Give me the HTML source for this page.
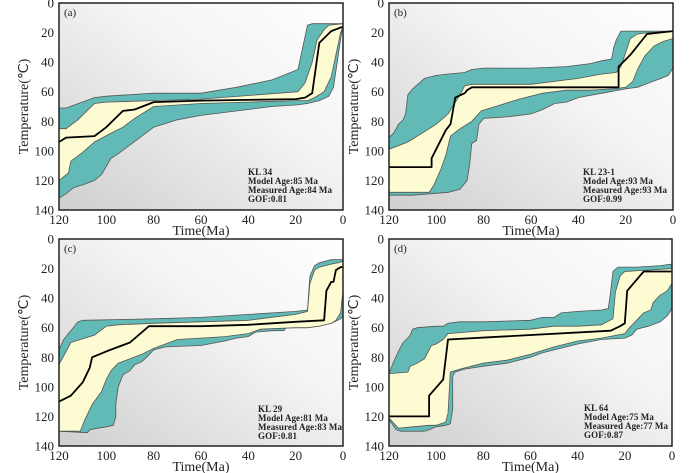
<!DOCTYPE html>
<html><head><meta charset="utf-8"><style>
html,body{margin:0;padding:0;background:#fff;}
svg{display:block;font-family:"Liberation Serif","Times New Roman",serif;}
</style></head>
<body>
<svg id="fig" width="700" height="473" viewBox="0 0 700 473">
<defs>
<linearGradient id="bg" x1="1" y1="0" x2="0" y2="1">
<stop offset="0" stop-color="#ffffff"/><stop offset="0.4" stop-color="#f4f4f4"/><stop offset="1" stop-color="#cfcfcf"/>
</linearGradient>
</defs>
</svg>
<script>
// ---- Panel (a) KL 34 ----
const aOuterUpper=[[120,71],[117,71],[105,64],[100,63],[80,61],[60,61],[45,57],[30,52],[19,45],[15,15],[13,14],[0,14]];
const aOuterLower=[[120,132],[117,129],[114,125],[110,123],[105,120],[102,116],[98,105],[95,102],[90,96],[80,84],[70,79],[60,76],[40,72],[30,70],[20,69],[15,68],[10,66],[6,63],[4,57],[2,35],[0,14]];
const aInnerUpper=[[120,85],[117,85],[112,79],[105,68],[100,67],[80,66],[60,65],[19,60],[16,54],[13,40],[11,25],[8,18],[6,15],[0,14]];
const aInnerLower=[[120,120],[116,115],[115,107],[110,101],[105,94],[98,88],[93,84],[88,78],[80,70],[60,68],[40,67],[20,66],[15,66],[12,64],[8,60],[5,50],[3,35],[1,20],[0,16]];
const aBest=[[120,94],[117,91],[105,90],[100,84],[93,73],[88,72],[80,67],[60,66],[20,65],[16,64],[13,61],[10,27],[5,19],[0,16]];
const aInfo=["KL 34","Model Age:85 Ma","Measured Age:84 Ma","GOF:0.81"];
// ---- Panel (b) KL 23-1 ----
const bOuterUpper=[[120,91],[118,88],[117,85],[116,82],[114,79],[113,75],[112,62],[110,58],[105,51],[100,49],[95,48],[88,47],[85,45],[80,44],[60,44],[45,43],[35,41],[30,39],[26,38],[25,30],[24,25],[22,19],[0,19]];
const bOuterLower=[[120,130],[110,130],[95,128],[90,126],[87,120],[86,110],[85,95],[83,93],[82,82],[80,78],[70,77],[60,75],[55,72],[50,68],[45,67],[40,64],[30,61],[20,58],[15,57],[10,54],[5,51],[2,49],[0,44]];
const bInnerUpper=[[120,99],[112,94],[100,82],[95,75],[90,62],[88,56],[85,55],[60,55],[40,51],[30,48],[24,47],[22,43],[18,24],[15,21],[10,20],[0,19]];
const bInnerLower=[[120,128],[103,128],[101,123],[98,112],[96,103],[94,90],[90,85],[85,80],[81,73],[75,70],[65,65],[55,61],[45,59],[35,59],[25,58],[20,57],[17,53],[15,45],[12,36],[8,29],[4,26],[0,24]];
const bBest=[[120,111],[102,111],[102,105],[96,86],[94,82],[92,64],[88,61],[87,59],[85,57],[23,57],[23,43],[18,35],[11,21],[0,19]];
const bInfo=["KL 23-1","Model Age:93 Ma","Measured Age:93 Ma","GOF:0.99"];
// ---- Panel (c) KL 29 ----
const cOuterUpper=[[120,75],[118,68],[115,62],[112,56],[110,55],[80,54],[60,53],[40,51],[30,50],[20,49],[15,48],[14,25],[12,18],[10,16],[5,14],[0,14]];
const cOuterLower=[[120,130],[108,131],[107,129],[104,128],[100,127],[97,126],[96,120],[96,112],[95,100],[93,92],[90,89],[88,85],[85,83],[83,80],[80,75],[75,73],[60,72],[50,69],[45,67],[40,66],[37,63],[30,62],[25,62],[24,60],[15,60],[13,58],[10,58],[5,57],[1,54],[0,52],[0,35]];
const cInnerUpper=[[120,85],[115,70],[105,65],[100,59],[95,58],[80,57],[60,56],[40,55],[20,51],[15,49],[14,30],[12,21],[10,19],[5,17],[2,16],[0,15]];
const cInnerLower=[[120,130],[111,130],[109,122],[106,112],[102,103],[100,95],[98,89],[95,84],[90,81],[85,78],[80,74],[75,71],[70,68],[60,67],[50,66],[40,64],[35,61],[20,60],[15,60],[10,59],[5,57],[3,55],[1,50],[0,35]];
const cBest=[[120,110],[115,106],[110,97],[107,87],[106,80],[100,76],[90,70],[82,59],[60,59],[40,58],[20,56],[8,55],[7,35],[5,29],[4,29],[3,21],[1,19],[0,19]];
const cInfo=["KL 29","Model Age:81 Ma","Measured Age:83 Ma","GOF:0.81"];
// ---- Panel (d) KL 64 ----
const dOuterUpper=[[120,91],[118,83],[116,76],[114,70],[112,67],[111,65],[110,61],[108,60],[100,59],[97,59],[95,57],[90,56],[80,56],[60,55],[55,53],[50,53],[47,50],[40,49],[30,48],[27,47],[26,35],[25,22],[23,19],[15,19],[5,18],[0,17]];
const dOuterLower=[[120,122],[117,129],[115,130],[105,130],[103,129],[100,127],[96,126],[94,125],[93,115],[93,93],[92,90],[88,88],[80,86],[70,84],[60,80],[55,77],[50,75],[40,71],[30,68],[20,67],[17,65],[15,61],[10,59],[5,56],[2,52],[0,47]];
const dInnerUpper=[[120,91],[112,90],[111,86],[108,84],[105,81],[103,75],[102,72],[100,71],[97,68],[95,64],[80,62],[60,61],[50,59],[40,59],[30,58],[25,54],[24,36],[22,25],[20,22],[10,21],[0,20]];
const dInnerLower=[[120,121],[116,128],[110,127],[103,126],[100,126],[96,124],[95,118],[94,90],[90,88],[80,84],[70,82],[60,78],[50,73],[40,69],[30,67],[20,64],[18,60],[15,55],[12,50],[9,48],[8,43],[5,38],[2,35],[0,30]];
const dBest=[[120,120],[103,120],[103,106],[97,95],[95,68],[26,62],[22,59],[20,57],[19,35],[12,22],[0,22]];
const dInfo=["KL 64","Model Age:75 Ma","Measured Age:77 Ma","GOF:0.87"];

const xTicks=[120,100,80,60,40,20,0];
const yTicks=[0,20,40,60,80,100,120,140];

const NS="http://www.w3.org/2000/svg";
const svg=document.getElementById('fig');
function mk(tag,attrs,parent){const e=document.createElementNS(NS,tag);for(const k in attrs)e.setAttribute(k,attrs[k]);(parent||svg).appendChild(e);return e;}

const panels=[
 {id:'a',L:59,R:343,T:3,B:210,ou:aOuterUpper,ol:aOuterLower,iu:aInnerUpper,il:aInnerLower,best:aBest,info:aInfo,ix:248,iy:175},
 {id:'b',L:389,R:673,T:3,B:210,ou:bOuterUpper,ol:bOuterLower,iu:bInnerUpper,il:bInnerLower,best:bBest,info:bInfo,ix:583,iy:175},
 {id:'c',L:59,R:343,T:239,B:446,ou:cOuterUpper,ol:cOuterLower,iu:cInnerUpper,il:cInnerLower,best:cBest,info:cInfo,ix:258,iy:412},
 {id:'d',L:389,R:672,T:239,B:446,ou:dOuterUpper,ol:dOuterLower,iu:dInnerUpper,il:dInnerLower,best:dBest,info:dInfo,ix:584,iy:411}
];

panels.forEach(p=>{
  const g=mk('g',{});
  
  
  const xs=t=>p.L+(120-t)/120*(p.R-p.L);
  const ys=v=>p.T+v/140*(p.B-p.T);
  const pts=a=>a.map(d=>xs(d[0]).toFixed(1)+','+ys(d[1]).toFixed(1));
  const band=(up,lo)=>pts(up).concat(pts(lo.slice().reverse())).join(' ');
  const bg=mk('rect',{x:p.L,y:p.T,width:p.R-p.L,height:p.B-p.T,fill:'url(#bg)'},g);
  
  
  const ob=mk('polygon',{points:band(p.ou,p.ol),fill:'#62bab6',stroke:'#555',"stroke-width":0.8},g);
  
  
  const ib=mk('polygon',{points:band(p.iu,p.il),fill:'#fdfbd2',stroke:'#555',"stroke-width":0.8},g);
  
  
  const bl=mk('polyline',{points:pts(p.best).join(' '),fill:'none',stroke:'#000',"stroke-width":1.8,"stroke-linejoin":'round'},g);
  
  
  const fr=mk('rect',{x:p.L,y:p.T,width:p.R-p.L,height:p.B-p.T,fill:'none',stroke:'#222',"stroke-width":1.5},g);
  
  
  xTicks.forEach(t=>{
    const tx=mk('text',{x:xs(t),y:p.B+14,"font-size":13,"text-anchor":'middle',fill:'#222'},g);
    tx.textContent=t;
    
    
  });
  yTicks.forEach(v=>{
    const tx=mk('text',{x:p.L-5,y:ys(v)+4.5,"font-size":13,"text-anchor":'end',fill:'#222'},g);
    tx.textContent=v;
    
    
  });
  const xt=mk('text',{x:(p.L+p.R)/2,y:p.B+25,"font-size":14,"text-anchor":'middle',fill:'#222'},g);
  xt.textContent='Time(Ma)';
  
  
  const yx=p.L-31, yy=(p.T+p.B)/2;
  const yt=mk('text',{x:yx,y:yy,"font-size":14,"text-anchor":'middle',fill:'#222',transform:`rotate(-90 ${yx} ${yy})`},g);
  yt.textContent='Temperature(℃)';
  
  
  const pl=mk('text',{x:p.L+5,y:p.T+13,"font-size":11,fill:'#222'},g);
  pl.textContent='('+p.id+')';
  
  
  p.info.forEach((s,i)=>{
    const t=mk('text',{x:p.ix,y:p.iy+i*9,"font-size":9,"font-weight":'bold',"letter-spacing":0.1,fill:'#222'},g);
    t.textContent=s;
    
    
  });
});
</script>
</body></html>
